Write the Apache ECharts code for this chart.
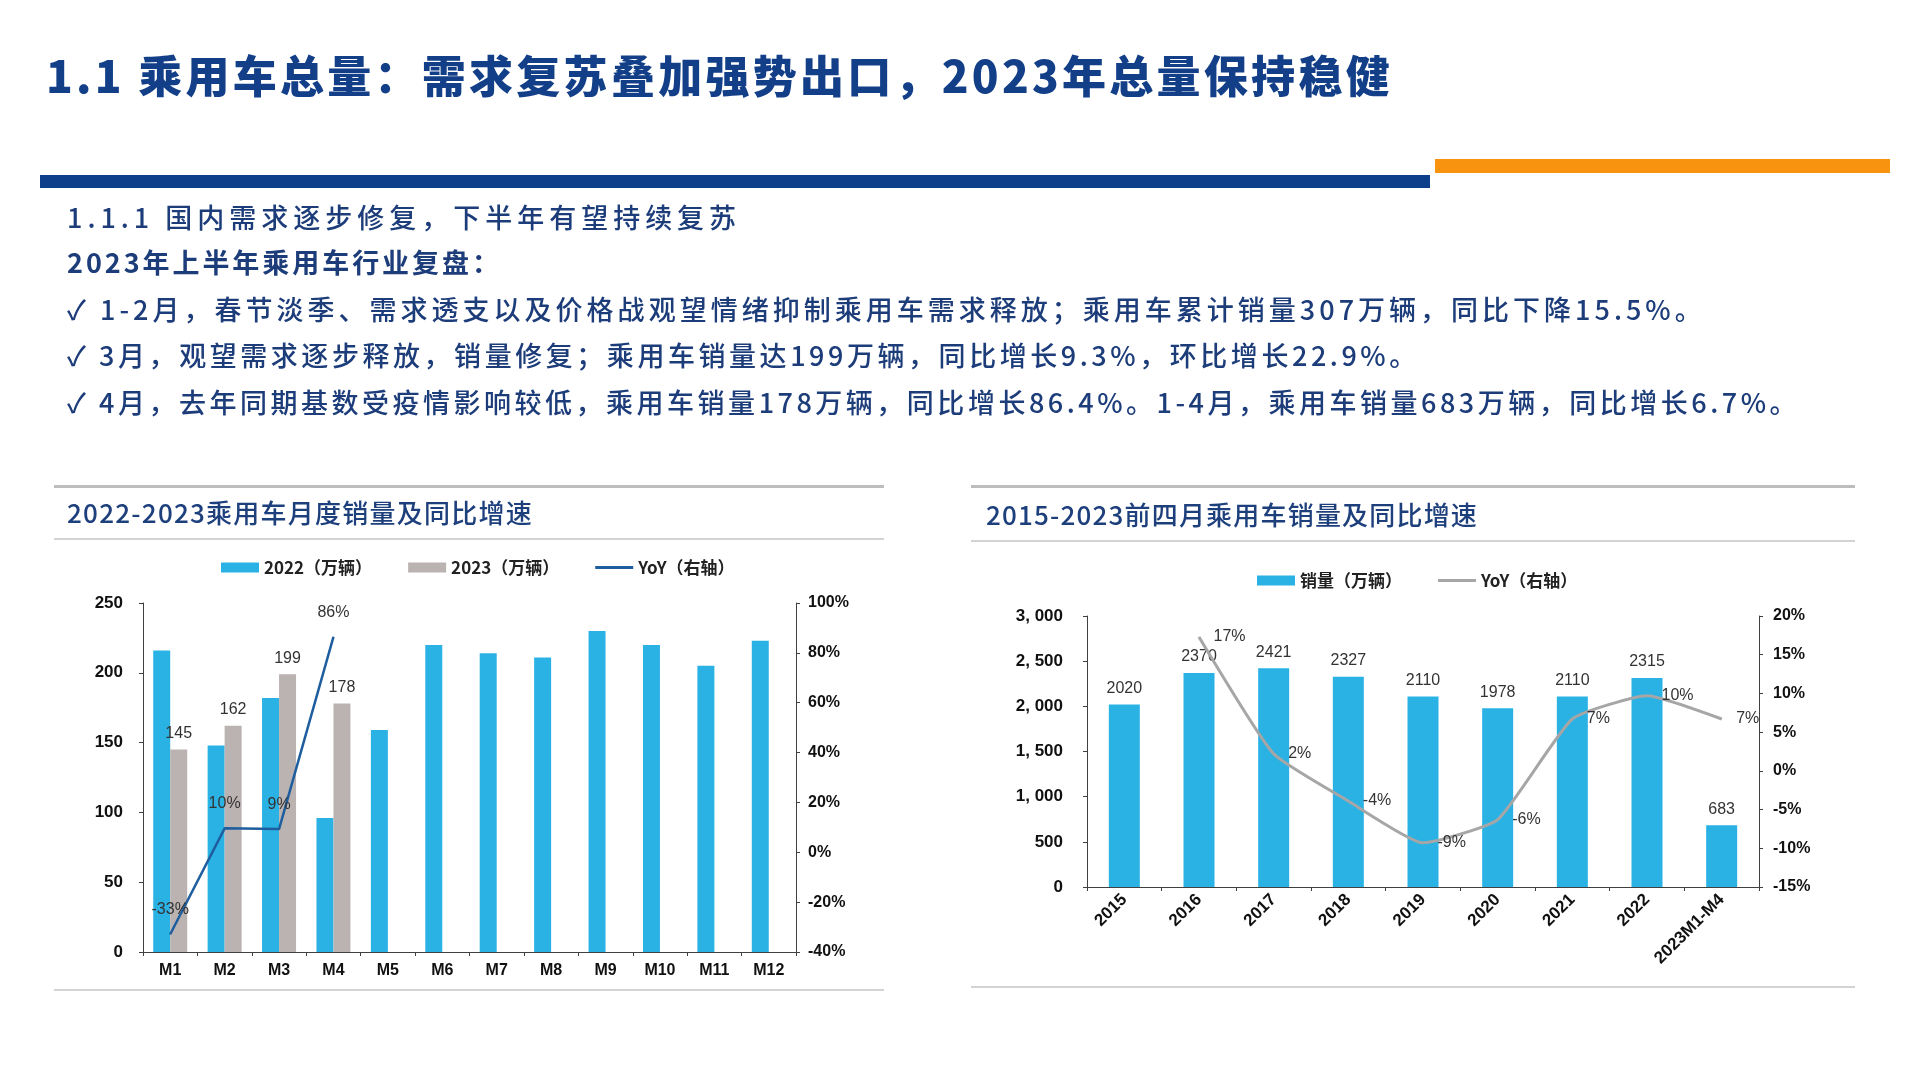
<!DOCTYPE html>
<html>
<head>
<meta charset="utf-8">
<script src="https://cdn.jsdelivr.net/npm/echarts@6/dist/echarts.min.js"></script>
<style>
  html, body { margin: 0; padding: 0; background: #fff; }
  #page { position: relative; width: 1920px; height: 1080px; overflow: hidden; }
  #chart { position: absolute; left: 0; top: 0; width: 1920px; height: 1080px; }
  .t { position: absolute; white-space: nowrap; font-family: 'Noto Sans CJK SC', sans-serif; }
  .bar { position: absolute; }
</style>
</head>
<body>
<div id="page">
  <div id="chart"></div>

  <!-- 页面标题 -->
  <div class="t fit" data-w="1347" style="left:46px;top:48px;height:52px;line-height:52px;font-size:44px;font-weight:900;color:#123f88;">1.1 乘用车总量：需求复苏叠加强势出口，2023年总量保持稳健</div>
  <div class="bar" style="left:40px;top:175px;width:1390px;height:13px;background:#0d3f8b;"></div>
  <div class="bar" style="left:1435px;top:159px;width:455px;height:14px;background:#f7930f;"></div>

  <!-- 要点 -->
  <div class="t fit" data-w="674" style="left:67px;top:199px;height:36px;line-height:36px;font-size:27px;font-weight:500;color:#1c3c7a;">1.1.1 国内需求逐步修复，下半年有望持续复苏</div>
  <div class="t fit" data-w="435" style="left:67px;top:244px;height:36px;line-height:36px;font-size:27px;font-weight:700;color:#1c3c7a;">2023年上半年乘用车行业复盘：</div>
  <div class="t fit" data-w="1639" style="left:67px;top:291px;height:36px;line-height:36px;font-size:27px;font-weight:500;color:#1c3c7a;">✓ 1-2月，春节淡季、需求透支以及价格战观望情绪抑制乘用车需求释放；乘用车累计销量307万辆，同比下降15.5%。</div>
  <div class="t fit" data-w="1353" style="left:67px;top:337px;height:36px;line-height:36px;font-size:27px;font-weight:500;color:#1c3c7a;">✓ 3月，观望需求逐步释放，销量修复；乘用车销量达199万辆，同比增长9.3%，环比增长22.9%。</div>
  <div class="t fit" data-w="1733" style="left:67px;top:384px;height:36px;line-height:36px;font-size:27px;font-weight:500;color:#1c3c7a;">✓ 4月，去年同期基数受疫情影响较低，乘用车销量178万辆，同比增长86.4%。1-4月，乘用车销量683万辆，同比增长6.7%。</div>

  <!-- 左侧图框 -->
  <div class="bar" style="left:54px;top:485px;width:830px;height:3px;background:#bdbdbd;"></div>
  <div class="t fit" data-w="466" style="left:67px;top:495px;height:34px;line-height:34px;font-size:26px;font-weight:500;color:#1d3f7c;">2022-2023乘用车月度销量及同比增速</div>
  <div class="bar" style="left:54px;top:538px;width:830px;height:2px;background:#d3d3d3;"></div>
  <div class="bar" style="left:54px;top:989px;width:830px;height:2px;background:#d3d3d3;"></div>

  <!-- 右侧图框 -->
  <div class="bar" style="left:971px;top:485px;width:884px;height:3px;background:#bdbdbd;"></div>
  <div class="t fit" data-w="492" style="left:986px;top:497px;height:34px;line-height:34px;font-size:26px;font-weight:500;color:#1d3f7c;">2015-2023前四月乘用车销量及同比增速</div>
  <div class="bar" style="left:971px;top:540px;width:884px;height:2px;background:#d3d3d3;"></div>
  <div class="bar" style="left:971px;top:986px;width:884px;height:2px;background:#d3d3d3;"></div>
</div>

<script>
// 月度数据（万辆）
var months = ['M1', 'M2', 'M3', 'M4', 'M5', 'M6', 'M7', 'M8', 'M9', 'M10', 'M11', 'M12'];
var sales2022 = [216, 148, 182, 96, 159, 220, 214, 211, 230, 220, 205, 223];
var sales2023 = [145, 162, 199, 178];
var yoyMonthly = [-32.9, 9.6, 9.3, 86.4];

// 年度数据（万辆）
var years = ['2015', '2016', '2017', '2018', '2019', '2020', '2021', '2022', '2023M1-M4'];
var salesYearly = [2020, 2370, 2421, 2327, 2110, 1978, 2110, 2315, 683];
var yoyYearly = [null, 17.3, 2.2, -3.9, -9.3, -6.3, 6.7, 9.7, 6.7];

var BLUE = '#2bb2e5';
var GRAY_BAR = '#bbb3b2';
var NAVY = '#1f5e9e';
var GRAY_LINE = '#a6a6a6';
var AXIS_FONT = "'Liberation Sans Narrow', 'Liberation Sans', sans-serif";
var LEG_FONT = "'Liberation Sans Narrow', 'Noto Sans CJK SC', sans-serif";
var LINE_ICON = 'path://M0,0H38V3H0Z';

// 文本按宽度拉伸字距
document.querySelectorAll('.fit').forEach(function (el) {
    var target = +el.getAttribute('data-w');
    var w = el.getBoundingClientRect().width;
    var n = el.textContent.length;
    var ls = (target - w) / n;
    el.style.letterSpacing = ls.toFixed(2) + 'px';
});

function pct(p) { return Math.round(p.value) + '%'; }
function thousands(v) { return String(v).replace(/\B(?=(\d{3})+(?!\d))/g, ', '); }

var axisLine = { show: true, lineStyle: { color: '#404040', width: 1 } };
var axisTick = { show: true, length: 4, lineStyle: { color: '#404040' } };
var legText = { fontFamily: LEG_FONT, fontWeight: 'bold', fontSize: 17, color: '#222' };
var valLabel = { fontFamily: 'Liberation Sans, sans-serif', fontSize: 16, color: '#333' };

var myChart = echarts.init(document.getElementById('chart'));
var option = {
    animation: false,
    legend: [
        {
            left: 216, top: 554,
            itemWidth: 38, itemHeight: 10, itemGap: 36, symbolKeepAspect: true,
            textStyle: legText,
            data: [
                { name: '2022（万辆）', icon: 'rect' },
                { name: '2023（万辆）', icon: 'rect' },
                { name: 'YoY（右轴）', icon: LINE_ICON }
            ]
        },
        {
            left: 1252, top: 567,
            itemWidth: 38, itemHeight: 10, itemGap: 36, symbolKeepAspect: true,
            textStyle: legText,
            data: [
                { name: '销量（万辆）', icon: 'rect' },
                { name: 'YoY（右轴） ', icon: LINE_ICON }
            ]
        }
    ],
    grid: [
        { left: 143, top: 603, width: 653, height: 349 },
        { left: 1087, top: 616, width: 672, height: 271 }
    ],
    xAxis: [
        {
            type: 'category', gridIndex: 0, data: months,
            axisLine: axisLine, axisTick: axisTick,
            axisLabel: { margin: 11, fontFamily: AXIS_FONT, fontWeight: 'bold', fontSize: 16, color: '#111' }
        },
        {
            type: 'category', gridIndex: 1, data: years,
            axisLine: axisLine, axisTick: axisTick,
            axisLabel: { margin: 10, rotate: 45, fontFamily: AXIS_FONT, fontWeight: 'bold', fontSize: 17, color: '#111' }
        }
    ],
    yAxis: [
        {
            type: 'value', gridIndex: 0, min: 0, max: 250, interval: 50,
            axisLine: axisLine, axisTick: axisTick, splitLine: { show: false },
            axisLabel: { margin: 20, fontFamily: AXIS_FONT, fontWeight: 'bold', fontSize: 17, color: '#111' }
        },
        {
            type: 'value', gridIndex: 0, min: -40, max: 100, interval: 20, position: 'right',
            axisLine: axisLine, axisTick: axisTick, splitLine: { show: false },
            axisLabel: { margin: 12, formatter: '{value}%', fontFamily: AXIS_FONT, fontWeight: 'bold', fontSize: 16, color: '#111' }
        },
        {
            type: 'value', gridIndex: 1, min: 0, max: 3000, interval: 500,
            axisLine: axisLine, axisTick: axisTick, splitLine: { show: false },
            axisLabel: { margin: 24, formatter: thousands, fontFamily: AXIS_FONT, fontWeight: 'bold', fontSize: 17, color: '#111' }
        },
        {
            type: 'value', gridIndex: 1, min: -15, max: 20, interval: 5, position: 'right',
            axisLine: axisLine, axisTick: axisTick, splitLine: { show: false },
            axisLabel: { margin: 14, formatter: '{value}%', fontFamily: AXIS_FONT, fontWeight: 'bold', fontSize: 16, color: '#111' }
        }
    ],
    series: [
        {
            name: '2022（万辆）', type: 'bar', xAxisIndex: 0, yAxisIndex: 0,
            data: sales2022, barWidth: 17, barGap: '0%',
            itemStyle: { color: BLUE }
        },
        {
            name: '2023（万辆）', type: 'bar', xAxisIndex: 0, yAxisIndex: 0,
            data: sales2023, barWidth: 17,
            itemStyle: { color: GRAY_BAR },
            label: Object.assign({ show: true, position: 'top', distance: 8 }, valLabel)
        },
        {
            name: 'YoY（右轴）', type: 'line', xAxisIndex: 0, yAxisIndex: 1,
            data: yoyMonthly, symbol: 'circle', symbolSize: 1, showSymbol: true,
            lineStyle: { color: NAVY, width: 2.5 }, itemStyle: { color: NAVY },
            label: Object.assign({ show: true, position: 'top', distance: 16, formatter: pct }, valLabel)
        },
        {
            name: '销量（万辆）', type: 'bar', xAxisIndex: 1, yAxisIndex: 2,
            data: salesYearly, barWidth: 31,
            itemStyle: { color: BLUE },
            label: Object.assign({ show: true, position: 'top', distance: 8 }, valLabel)
        },
        {
            name: 'YoY（右轴） ', type: 'line', xAxisIndex: 1, yAxisIndex: 3,
            data: yoyYearly, symbol: 'circle', symbolSize: 1, showSymbol: true, smooth: 0.15,
            lineStyle: { color: GRAY_LINE, width: 3 }, itemStyle: { color: GRAY_LINE },
            label: Object.assign({ show: true, position: 'right', distance: 14, formatter: pct }, valLabel)
        }
    ]
};

option && myChart.setOption(option);
</script>
</body>
</html>
